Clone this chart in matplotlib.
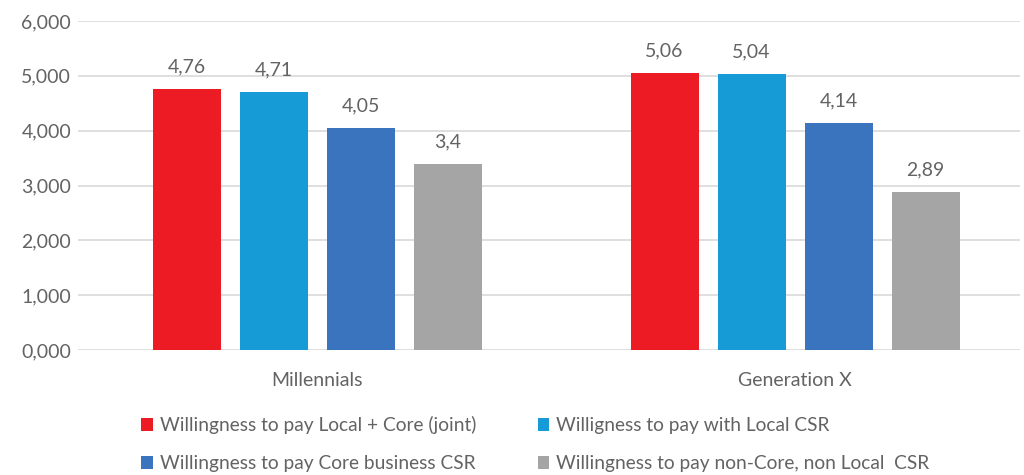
#!/usr/bin/env python3
''' grouped bar chart: willingness to pay by generation '''
import numpy as np
import matplotlib
matplotlib.use('Agg')
import matplotlib.pyplot as plt
from matplotlib.patches import Patch

groups = ['Millennials', 'Generation X']
series_names = ['Willingness to pay Local + Core (joint)',
                'Willigness to pay with Local CSR',
                'Willingness to pay Core business CSR',
                'Willingness to pay non-Core, non Local  CSR']
joint = [4.76, 5.06]
local = [4.71, 5.04]
core = [4.05, 4.14]
non_core = [3.4, 2.89]
y_ticks = [0, 1, 2, 3, 4, 5, 6]

colors = ['#ED1C24', '#179BD7', '#3A73BE', '#A5A5A5']
txt_c = '#636363'
fs = 14

plt.rcParams['font.family'] = ['Lato', 'DejaVu Sans']

fig = plt.figure(figsize=(10.24, 4.75), dpi=100)
ax = fig.add_axes([78/1024, 1-350/475, 942/1024, 329/475])

x = np.arange(len(groups))
width = 68/478
step = 87/478
series = [joint, local, core, non_core]
for i, vals in enumerate(series):
    pos = x + (i-1.5)*step
    bars = ax.bar(pos, vals, width=width, color=colors[i], zorder=3)
    for b, v in zip(bars, vals):
        ax.text(b.get_x()+b.get_width()/2, v+0.24, str(v).replace('.', ','),
                ha='center', va='bottom', fontsize=fs, color=txt_c)

ax.set_xlim(-0.5, -0.5 + 942/478)
ax.set_ylim(0, 6)
ax.set_yticks(y_ticks)
ax.set_yticklabels([('%.3f' % t).replace('.', ',') for t in y_ticks])
ax.set_xticks(x)
ax.set_xticklabels(groups)
ax.tick_params(axis='both', length=0, labelsize=fs, labelcolor=txt_c)
ax.tick_params(axis='y', pad=5)
ax.tick_params(axis='x', pad=16)
ax.yaxis.grid(True, color='#D9D9D9', linewidth=1.2, zorder=0)
for s in ax.spines.values():
    s.set_visible(False)

# legend in two columns: red / dark blue left, light blue / gray right
order = [0, 2, 1, 3]
handles = [Patch(facecolor=colors[k], label=series_names[k]) for k in order]
fig.legend(handles=handles, loc='upper left', bbox_to_anchor=(124/1024, 1-399/475),
           ncol=2, frameon=False, fontsize=13.8, labelcolor=txt_c,
           handlelength=0.62, handleheight=0.62, handletextpad=0.35,
           columnspacing=3.2, labelspacing=1.1)

fig.savefig('out.png', dpi=100)
